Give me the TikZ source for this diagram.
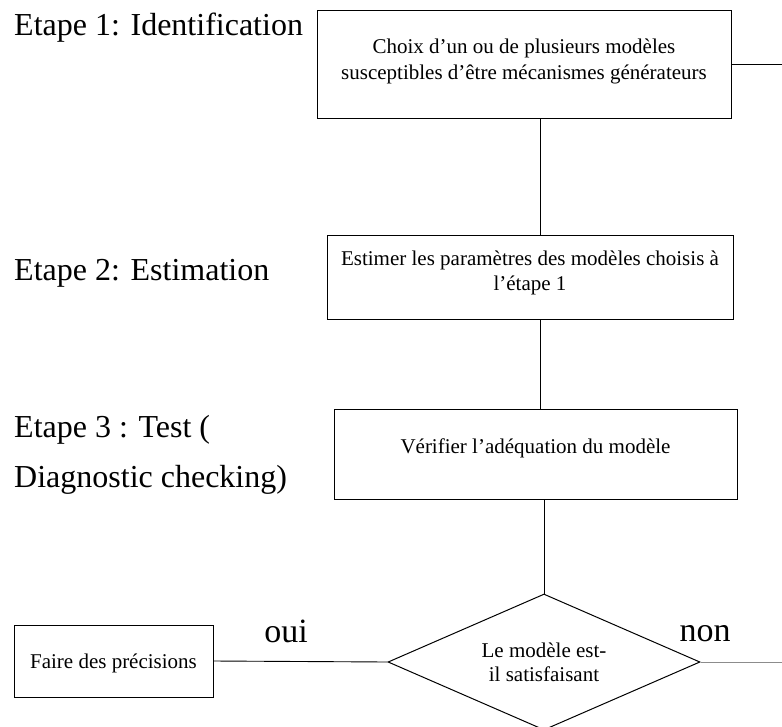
\documentclass[tikz,border=0pt]{standalone}
\usepackage{fontspec}
\setmainfont{Liberation Serif}
\usetikzlibrary{shapes.geometric}
\definecolor{lgray}{RGB}{140,140,140}
\begin{document}
\begin{tikzpicture}[x=1pt,y=-1pt,
  box/.style={draw=black, line width=1pt, rectangle, inner sep=0pt},
  boxtext/.style={font=\fontsize{21}{26}\selectfont, align=center, inner sep=0pt},
  steplabel/.style={font=\fontsize{32}{38}\selectfont, anchor=base west, inner sep=0pt},
  answer/.style={font=\fontsize{34}{40}\selectfont, anchor=base, inner sep=0pt},
  link/.style={draw=black, line width=0.9pt}]
\useasboundingbox (0,0) rectangle (782,726);
% boxes
\node[box, minimum width=414pt, minimum height=108pt] (b1) at (524,64) {};
\node[box, minimum width=406pt, minimum height=84pt] (b2) at (530,277) {};
\node[box, minimum width=403pt, minimum height=90pt] (b3) at (535.5,454) {};
\node[box, minimum width=199pt, minimum height=72pt] (b4) at (113.5,661) {};
\node[draw=black, line width=1pt, diamond, aspect=2.3, minimum width=312pt, minimum height=136pt, inner sep=0pt,
      font=\fontsize{21}{24}\selectfont, align=center] (d) at (544,662) {Le modèle est-\\il satisfaisant};
% box texts
\node[boxtext] (t1) at (524,61.5) {Choix d’un ou de plusieurs modèles\\susceptibles d’être mécanismes générateurs};
\node[boxtext, font=\fontsize{21}{25}\selectfont] (t2) at (530,273) {Estimer les paramètres des modèles choisis à\\l’étape 1};
\node[boxtext] (t3) at (535.5,448) {Vérifier l’adéquation du modèle};
\node[boxtext] (t4) at (113.5,663) {Faire des précisions};
% step labels
\node[steplabel] (s1) at (14,35) {Etape 1: Identification};
\node[steplabel] (s2) at (14,280) {Etape 2: Estimation};
\node[steplabel] (s3) at (14,437) {Etape 3 : Test (};
\node[steplabel] (s3b) at (14,487) {Diagnostic checking)};
% answers
\node[answer] (oui) at (286,642) {oui};
\node[answer] (non) at (705,641) {non};
% connectors
\coordinate (spine) at (540,0);
\coordinate (edge) at (782,0);
\draw[link] (b1.south -| spine) -- (b2.north -| spine);
\draw[link] (b2.south -| spine) -- (b3.north -| spine);
\draw[link] (b3.south -| d.north) -- (d.north);
\draw[link] (b1.east) -- (b1.east -| edge);
\draw[link] (b4.east) -- (d.west);
\draw[link, draw=lgray] (d.east) -- (d.east -| edge);
\end{tikzpicture}
\end{document}
